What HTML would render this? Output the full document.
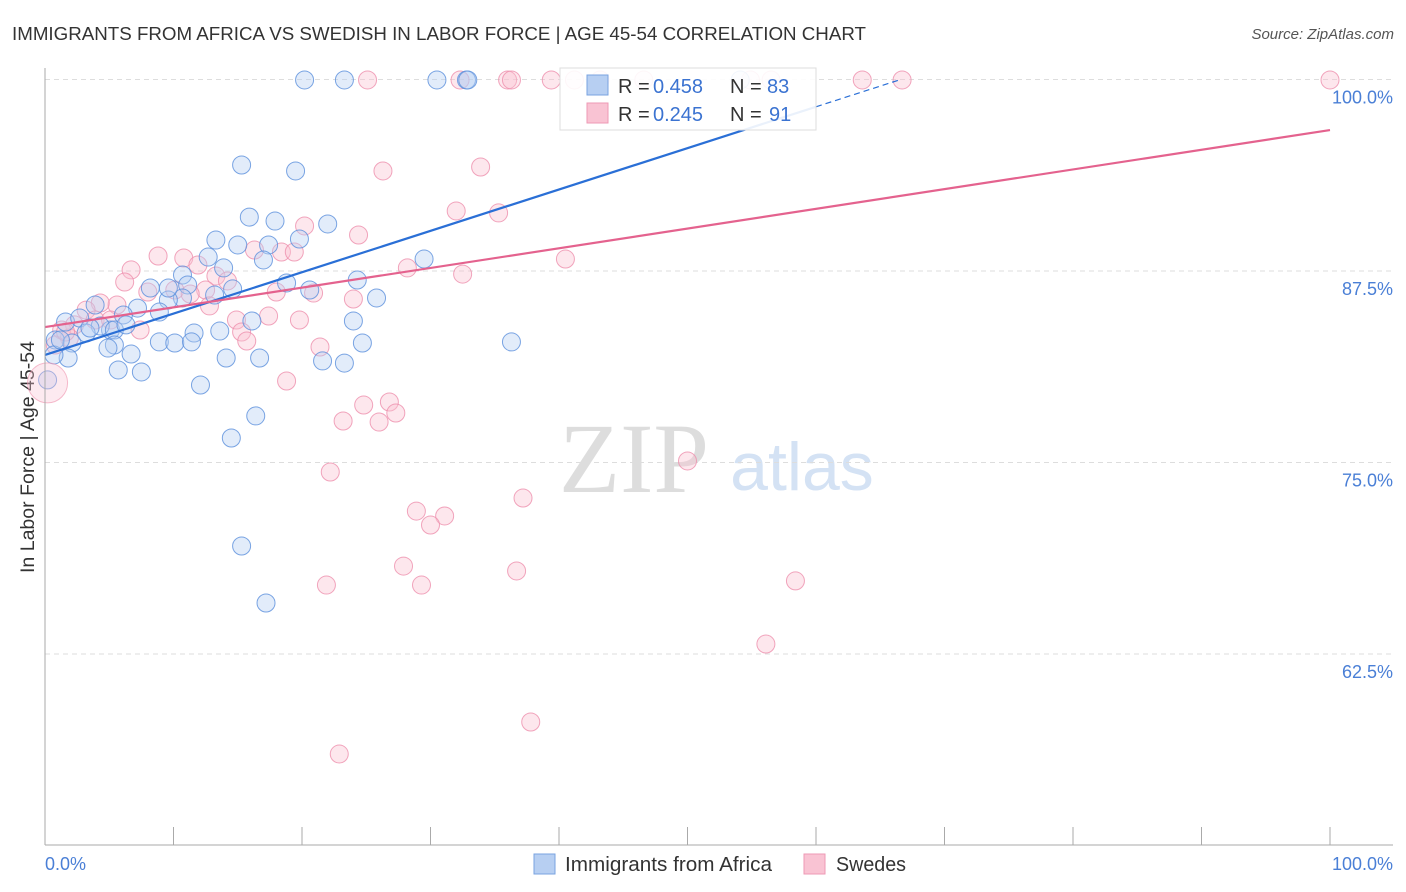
<!DOCTYPE html>
<html><head><meta charset="utf-8"><style>
body{margin:0;background:#fff;font-family:"Liberation Sans",sans-serif}
svg{display:block}
</style></head><body>
<svg id="c" width="1406" height="892">
<text x="12" y="40" font-size="18" fill="#333" textLength="854" lengthAdjust="spacingAndGlyphs">IMMIGRANTS FROM AFRICA VS SWEDISH IN LABOR FORCE | AGE 45-54 CORRELATION CHART</text>
<text x="1394" y="39" font-size="15" fill="#555" font-style="italic" text-anchor="end">Source: ZipAtlas.com</text>
<text x="34" y="457" font-size="19" fill="#333" text-anchor="middle" textLength="232" lengthAdjust="spacingAndGlyphs" transform="rotate(-90 34 457)">In Labor Force | Age 45-54</text>
<text x="634" y="492" font-size="100" fill="#ddd" font-family="Liberation Serif" text-anchor="middle">ZIP</text>
<text x="802" y="490" font-size="68" fill="#d4e2f4" text-anchor="middle">atlas</text>
<g id="grid"></g><g id="pts"></g><g id="trend"></g>
<line x1="45" y1="68" x2="45" y2="845" stroke="#aaa"/>
<line x1="45" y1="845" x2="1393" y2="845" stroke="#aaa"/>
<g id="xt"></g>
<text x="45" y="870" font-size="18" fill="#4a7fd6">0.0%</text>
<text x="1393" y="870" font-size="18" fill="#4a7fd6" text-anchor="end">100.0%</text>
<g>
<rect x="560" y="68" width="256" height="62" fill="#fff" fill-opacity="0.9" stroke="#ddd"/>
<rect x="587" y="75" width="21" height="20" fill="#b7cff2" stroke="#7aa3e0"/>
<rect x="587" y="103" width="21" height="20" fill="#f9c3d3" stroke="#ee9ab4"/>
<text x="618" y="93" font-size="20" fill="#333">R =</text>
<text x="653" y="93" font-size="20" fill="#3b73d1">0.458</text>
<text x="730" y="93" font-size="20" fill="#333">N =</text>
<text x="767" y="93" font-size="20" fill="#3b73d1">83</text>
<text x="618" y="121" font-size="20" fill="#333">R =</text>
<text x="653" y="121" font-size="20" fill="#3b73d1">0.245</text>
<text x="730" y="121" font-size="20" fill="#333">N =</text>
<text x="769" y="121" font-size="20" fill="#3b73d1">91</text>
</g>
<g>
<rect x="534" y="854" width="21" height="20" fill="#b7cff2" stroke="#7aa3e0"/>
<text x="565" y="871" font-size="20" fill="#333" textLength="207" lengthAdjust="spacingAndGlyphs">Immigrants from Africa</text>
<rect x="804" y="854" width="21" height="20" fill="#f9c3d3" stroke="#ee9ab4"/>
<text x="836" y="871" font-size="20" fill="#333" textLength="70" lengthAdjust="spacingAndGlyphs">Swedes</text>
</g>
</svg>
<script>
const yTicks=[100,87.5,75,62.5];
const yTickLabels=["100.0%","87.5%","75.0%","62.5%"];
const xTicks=[0,10,20,30,40,50,60,70,80,90,100];
const bluePx=[[305,80],[344,80],[437,80],[466,80],[468,80],[740,80],[241,165],[296,171],[249,217],[275,221],[328,224],[216,240],[238,245],[268,245],[299,239],[208,257],[263,260],[424,259],[224,268],[183,275],[187,285],[357,280],[287,283],[310,290],[215,295],[232,289],[183,298],[150,288],[169,300],[377,298],[95,305],[138,308],[123,315],[160,312],[353,321],[252,321],[220,331],[194,333],[110,330],[65,322],[80,318],[100,326],[115,330],[86,333],[160,342],[175,343],[192,342],[115,345],[362,343],[511,342],[55,340],[72,343],[108,348],[131,354],[226,358],[259,358],[322,361],[344,363],[68,358],[54,355],[118,370],[142,372],[200,385],[256,416],[231,438],[242,546],[266,603],[48,380],[126,325],[60,340],[168,288],[90,328]];
const pinkPx=[[368,80],[460,80],[508,80],[512,80],[551,80],[575,80],[600,80],[644,80],[750,80],[771,80],[862,80],[902,80],[1330,80],[383,171],[481,167],[456,211],[498,213],[358,235],[304,226],[566,259],[408,268],[463,274],[158,256],[131,270],[184,258],[198,265],[216,276],[227,281],[205,290],[254,250],[282,252],[294,252],[276,292],[313,293],[353,299],[125,282],[148,292],[175,290],[190,294],[117,305],[100,303],[86,310],[210,306],[236,320],[268,316],[299,320],[242,332],[247,341],[320,347],[75,325],[62,330],[70,338],[55,345],[287,381],[343,421],[364,405],[379,422],[390,402],[396,413],[330,472],[523,498],[416,511],[444,516],[430,525],[688,461],[403,566],[516,571],[327,585],[422,585],[796,581],[766,644],[531,722],[339,754],[95,320],[110,320],[140,330],[65,332]];
const blueX=bluePx.map(p=>+((p[0]-45)/12.85).toFixed(1));
const blueY=bluePx.map(p=>+(100-(p[1]-79.5)/15.32).toFixed(2));
const pinkX=pinkPx.map(p=>+((p[0]-45)/12.85).toFixed(1));
const pinkY=pinkPx.map(p=>+(100-(p[1]-79.5)/15.32).toFixed(2));
const blueTrend=[82.02,0.27];
const pinkTrend=[83.84,0.1286];
const X=v=>45+v*12.85, Y=v=>79.5+(100-v)*15.32;
const NS="http://www.w3.org/2000/svg";
function mk(t,a,p){const e=document.createElementNS(NS,t);for(const k in a)e.setAttribute(k,a[k]);p.appendChild(e);return e;}
const g=document.getElementById('grid');
yTicks.forEach((v,i)=>{
 const l=mk('line',{x1:45,x2:1393,y1:Y(v),y2:Y(v),stroke:'#ddd','stroke-dasharray':'5,4'},g);
 
 
 const t=mk('text',{x:1393,y:Y(v)+24,'font-size':18,fill:'#4a7fd6','text-anchor':'end'},g);
 t.textContent=yTickLabels[i];
 
 
});
const xt=document.getElementById('xt');
xTicks.forEach(v=>{const l=mk('line',{x1:X(v),x2:X(v),y1:827,y2:845,stroke:'#aaa'},xt);
 
 });
const pg=document.getElementById('pts');
function pts(xs,ys,fill,stroke,name){xs.forEach((x,i)=>{const c=mk('circle',{cx:X(x),cy:Y(ys[i]),r:9,fill:fill,'fill-opacity':0.4,stroke:stroke,'stroke-opacity':0.8,'stroke-width':1},pg);
 
 });}
pts(pinkX,pinkY,'#f9c3d3','#ee8fac','swedes-point');
pts(blueX,blueY,'#b7cff2','#5a8fdc','africa-point');
let big=mk('circle',{cx:X(0.2),cy:Y(80.2),r:20,fill:'#f9c3d3','fill-opacity':0.35,stroke:'#ee8fac','stroke-opacity':0.6},pg);


const tg=document.getElementById('trend');
let l1=mk('line',{x1:X(0),y1:Y(blueTrend[0]),x2:X(60),y2:Y(blueTrend[0]+60*blueTrend[1]),stroke:'#2a6fd6','stroke-width':2.2},tg);


let l2=mk('line',{x1:X(60),y1:Y(blueTrend[0]+60*blueTrend[1]),x2:X(66.5),y2:Y(blueTrend[0]+66.5*blueTrend[1]),stroke:'#2a6fd6','stroke-width':1.2,'stroke-dasharray':'6,4'},tg);


let l3=mk('line',{x1:X(0),y1:Y(pinkTrend[0]),x2:X(100),y2:Y(pinkTrend[0]+100*pinkTrend[1]),stroke:'#e4628e','stroke-width':2.2},tg);


</script>
</body></html>
